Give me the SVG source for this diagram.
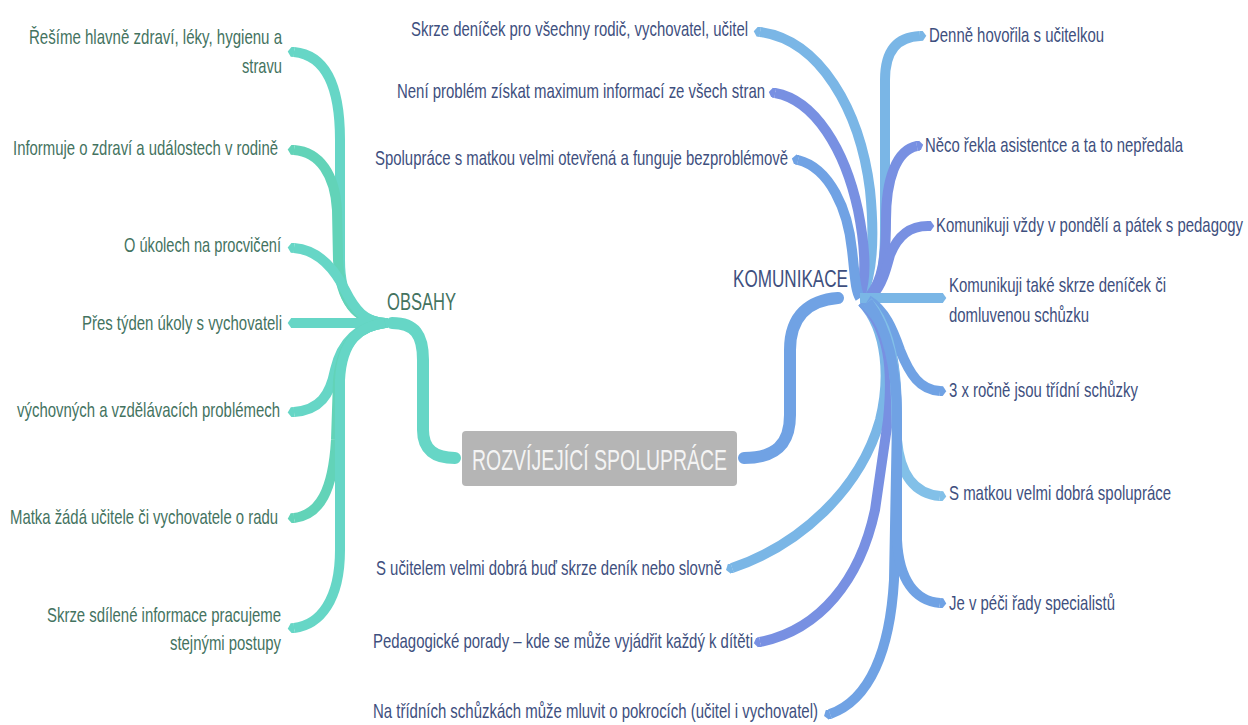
<svg xmlns="http://www.w3.org/2000/svg" width="1248" height="725" viewBox="0 0 1248 725">
<style>
text{font-family:"Liberation Sans",Arial,sans-serif;font-size:21px}
.lt{fill:#44735f}
.rt{fill:#3e4f7e}
.c path{fill:none;stroke-width:10;stroke-linecap:butt;stroke-linejoin:round}
.c .tr{stroke-width:12;stroke-linecap:round}
.t1{stroke:#66d6c6}.t2{stroke:#62d3b8}
.b1{stroke:#7ab6e6}.b2{stroke:#7890e2}.b3{stroke:#70a2e4}.b4{stroke:#82c0e8}
.s.t1{marker-start:url(#mT1)}.s.t2{marker-start:url(#mT2)}
.s.b1{marker-start:url(#mB1)}.s.b2{marker-start:url(#mB2)}.s.b3{marker-start:url(#mB3)}
.e.b1{marker-end:url(#mB1)}.e.b2{marker-end:url(#mB2)}.e.b3{marker-end:url(#mB3)}.e.b4{marker-end:url(#mB4)}
</style>
<defs>
  <marker id="mT1" viewBox="0 -0.5 1 1" refX="0.02" refY="0" markerWidth="1" markerHeight="1" markerUnits="strokeWidth" orient="auto-start-reverse"><path d="M0,-0.5 L0.3,-0.5 L0.65,0 L0.3,0.5 L0,0.5 Z" fill="#66d6c6"/></marker>
  <marker id="mT2" viewBox="0 -0.5 1 1" refX="0.02" refY="0" markerWidth="1" markerHeight="1" markerUnits="strokeWidth" orient="auto-start-reverse"><path d="M0,-0.5 L0.3,-0.5 L0.65,0 L0.3,0.5 L0,0.5 Z" fill="#62d3b8"/></marker>
  <marker id="mB1" viewBox="0 -0.5 1 1" refX="0.02" refY="0" markerWidth="1" markerHeight="1" markerUnits="strokeWidth" orient="auto-start-reverse"><path d="M0,-0.5 L0.3,-0.5 L0.65,0 L0.3,0.5 L0,0.5 Z" fill="#7ab6e6"/></marker>
  <marker id="mB2" viewBox="0 -0.5 1 1" refX="0.02" refY="0" markerWidth="1" markerHeight="1" markerUnits="strokeWidth" orient="auto-start-reverse"><path d="M0,-0.5 L0.3,-0.5 L0.65,0 L0.3,0.5 L0,0.5 Z" fill="#7890e2"/></marker>
  <marker id="mB3" viewBox="0 -0.5 1 1" refX="0.02" refY="0" markerWidth="1" markerHeight="1" markerUnits="strokeWidth" orient="auto-start-reverse"><path d="M0,-0.5 L0.3,-0.5 L0.65,0 L0.3,0.5 L0,0.5 Z" fill="#70a2e4"/></marker>
  <marker id="mB4" viewBox="0 -0.5 1 1" refX="0.02" refY="0" markerWidth="1" markerHeight="1" markerUnits="strokeWidth" orient="auto-start-reverse"><path d="M0,-0.5 L0.3,-0.5 L0.65,0 L0.3,0.5 L0,0.5 Z" fill="#82c0e8"/></marker>
</defs>
<rect width="1248" height="725" fill="#ffffff"/>
<g id="connectors" class="c">
  <path class="tr t1" d="M392,323 C415,323 423,335 423,360 L423,430 C423,450 435,458 455,458"/>
  <path class="s t1" d="M294,52 C325,55 340,85 340,140 L340,260 C340,300 355,320 385,323"/>
  <path class="s t2" d="M294,150 C320,152 335,175 337,210 L338,260 C340,300 355,320 385,323"/>
  <path class="s t1" d="M294,248 C320,250 335,270 345,290 C355,310 365,322 385,323"/>
  <path class="s t1" d="M294,323 L388,323"/>
  <path class="s t1" d="M294,412 C320,410 330,395 335,370 C342,340 360,326 385,323"/>
  <path class="s t2" d="M294,518 C320,515 333,490 336,440 L338,380 C342,340 360,326 385,323"/>
  <path class="s t1" d="M294,628 C320,625 340,600 340,550 L340,380 C342,340 360,326 385,323"/>
  <path class="tr b3" d="M744,458 C775,458 790,445 790,415 L790,350 C790,315 810,300 838,298"/>
  <path class="s b1" d="M760,32 C820,40 860,110 870,190 C875,240 872,275 862,296"/>
  <path class="s b2" d="M775,93 C815,100 845,150 858,210 C866,250 866,280 860,296"/>
  <path class="s b3" d="M798,160 C830,168 848,210 852,250 C855,275 855,290 860,298"/>
  <path class="s b1" d="M732,568 C800,545 860,490 880,420 C890,380 888,330 862,302"/>
  <path class="s b2" d="M760,642 C820,630 860,580 875,510 L888,420 C893,370 890,330 862,302"/>
  <path class="s b3" d="M830,714 C870,700 890,650 894,580 L897,420 C897,360 890,325 862,302"/>
  <path class="e b1" d="M868,298 C880,290 885,270 885,230 L885,80 C885,50 898,37 920,36"/>
  <path class="e b2" d="M870,296 C882,280 886,260 886,220 C886,180 896,150 917,146"/>
  <path class="e b2" d="M872,296 C882,285 886,270 890,255 C898,235 910,226 928,226"/>
  <path class="e b1" d="M860,298 L940,298"/>
  <path class="e b3" d="M868,300 C885,310 893,330 900,350 C910,375 920,390 940,391"/>
  <path class="e b4" d="M868,302 C885,320 895,350 896,400 L897,440 C900,475 915,494 940,496"/>
  <path class="e b3" d="M868,302 C885,325 897,360 897,420 L897,540 C899,580 915,601 940,603"/>
</g>
<g id="center">
  <rect x="462" y="431" width="275" height="55" rx="4" fill="#b5b5b5"/>
  <text transform="translate(472,470) scale(0.68,1)" style="font-size:30px" fill="#f4f4f4" textLength="375" lengthAdjust="spacingAndGlyphs">ROZVÍJEJÍCÍ SPOLUPRÁCE</text>
</g>
<g id="obsahy">
  <text class="lt" transform="translate(387,310) scale(0.68,1)" style="font-size:24px" textLength="101.5" lengthAdjust="spacingAndGlyphs">OBSAHY</text>
</g>
<g id="komunikace">
  <text class="rt" transform="translate(733,287) scale(0.68,1)" style="font-size:24px" textLength="169.1" lengthAdjust="spacingAndGlyphs">KOMUNIKACE</text>
</g>
<g id="o1"><text class="lt" transform="translate(29,44) scale(0.68,1)" textLength="372.1" lengthAdjust="spacingAndGlyphs">Řešíme hlavně zdraví, léky, hygienu a</text><text class="lt" transform="translate(242,73) scale(0.68,1)" textLength="58.8" lengthAdjust="spacingAndGlyphs">stravu</text></g>
<g id="o2"><text class="lt" transform="translate(13,155) scale(0.68,1)" textLength="389.7" lengthAdjust="spacingAndGlyphs">Informuje o zdraví a událostech v rodině</text></g>
<g id="o3"><text class="lt" transform="translate(124,252) scale(0.68,1)" textLength="230.9" lengthAdjust="spacingAndGlyphs">O úkolech na procvičení</text></g>
<g id="o4"><text class="lt" transform="translate(82,330) scale(0.68,1)" textLength="294.1" lengthAdjust="spacingAndGlyphs">Přes týden úkoly s vychovateli</text></g>
<g id="o5"><text class="lt" transform="translate(17,417) scale(0.68,1)" textLength="386.8" lengthAdjust="spacingAndGlyphs">výchovných a vzdělávacích problémech</text></g>
<g id="o6"><text class="lt" transform="translate(10,524) scale(0.68,1)" textLength="394.1" lengthAdjust="spacingAndGlyphs">Matka žádá učitele či vychovatele o radu</text></g>
<g id="o7"><text class="lt" transform="translate(47,622) scale(0.68,1)" textLength="344.1" lengthAdjust="spacingAndGlyphs">Skrze sdílené informace pracujeme</text><text class="lt" transform="translate(170,650) scale(0.68,1)" textLength="163.2" lengthAdjust="spacingAndGlyphs">stejnými postupy</text></g>
<g id="k1"><text class="rt" transform="translate(411,36) scale(0.68,1)" textLength="495.6" lengthAdjust="spacingAndGlyphs">Skrze deníček pro všechny rodič, vychovatel, učitel</text></g>
<g id="k2"><text class="rt" transform="translate(397,98) scale(0.68,1)" textLength="541.2" lengthAdjust="spacingAndGlyphs">Není problém získat maximum informací ze všech stran</text></g>
<g id="k3"><text class="rt" transform="translate(375,165) scale(0.68,1)" textLength="607.4" lengthAdjust="spacingAndGlyphs">Spolupráce s matkou velmi otevřená a funguje bezproblémově</text></g>
<g id="k4"><text class="rt" transform="translate(376,575) scale(0.68,1)" textLength="508.8" lengthAdjust="spacingAndGlyphs">S učitelem velmi dobrá buď skrze deník nebo slovně</text></g>
<g id="k5"><text class="rt" transform="translate(373,648) scale(0.68,1)" textLength="558.8" lengthAdjust="spacingAndGlyphs">Pedagogické porady – kde se může vyjádřit každý k dítěti</text></g>
<g id="k6"><text class="rt" transform="translate(373,718) scale(0.68,1)" textLength="654.4" lengthAdjust="spacingAndGlyphs">Na třídních schůzkách může mluvit o pokrocích (učitel i vychovatel)</text></g>
<g id="k7"><text class="rt" transform="translate(929,42) scale(0.68,1)" textLength="257.4" lengthAdjust="spacingAndGlyphs">Denně hovořila s učitelkou</text></g>
<g id="k8"><text class="rt" transform="translate(925,152) scale(0.68,1)" textLength="379.4" lengthAdjust="spacingAndGlyphs">Něco řekla asistentce a ta to nepředala</text></g>
<g id="k9"><text class="rt" transform="translate(936,232) scale(0.68,1)" textLength="451.5" lengthAdjust="spacingAndGlyphs">Komunikuji vždy v pondělí a pátek s pedagogy</text></g>
<g id="k10"><text class="rt" transform="translate(949,292) scale(0.68,1)" textLength="319.1" lengthAdjust="spacingAndGlyphs">Komunikuji také skrze deníček či</text><text class="rt" transform="translate(949,322) scale(0.68,1)" textLength="205.9" lengthAdjust="spacingAndGlyphs">domluvenou schůzku</text></g>
<g id="k11"><text class="rt" transform="translate(949,397) scale(0.68,1)" textLength="277.9" lengthAdjust="spacingAndGlyphs">3 x ročně jsou třídní schůzky</text></g>
<g id="k12"><text class="rt" transform="translate(949,500) scale(0.68,1)" textLength="326.5" lengthAdjust="spacingAndGlyphs">S matkou velmi dobrá spolupráce</text></g>
<g id="k13"><text class="rt" transform="translate(949,610) scale(0.68,1)" textLength="244.1" lengthAdjust="spacingAndGlyphs">Je v péči řady specialistů</text></g>
</svg>
